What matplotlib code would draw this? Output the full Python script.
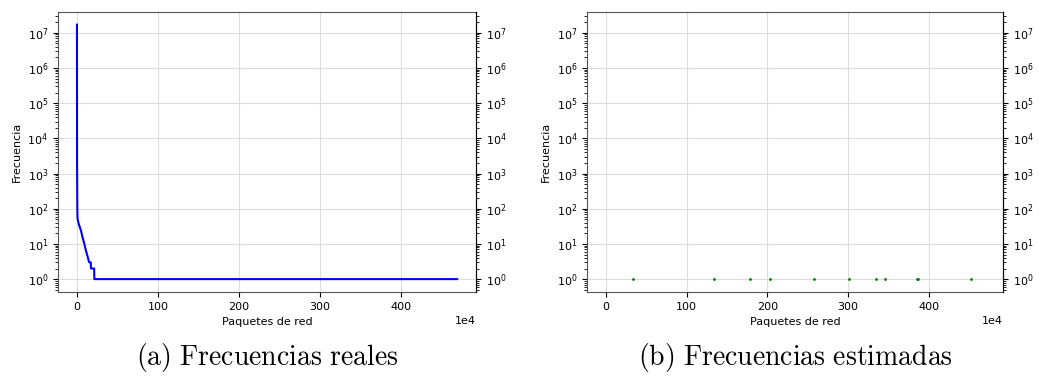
import matplotlib
matplotlib.use('Agg')
import matplotlib.pyplot as plt

# Real frequencies (sorted descending), breakpoints of the rank-frequency curve
RANKS_REAL = [0, 1000, 4000, 7000, 20000, 49000, 70000, 91000, 110000,
              132000, 145000, 150000, 170000, 173000, 212000, 214000, 4690000]
FREQ_REAL = [1.7e7, 2000, 100, 52, 38, 24, 15, 10, 6.5,
             4.3, 3.3, 3, 3, 2, 2, 1, 1]

# Estimated frequencies: only a handful of non-zero entries
RANKS_EST = [33.3e4, 133.7e4, 179e4, 203.3e4, 257.6e4, 300.8e4,
             335.4e4, 345.7e4, 385.2e4, 386.8e4, 452.7e4]
FREQ_EST = [1, 1, 1, 1, 1, 1, 1, 1, 1, 1, 1]

CAPTIONS = [r"$\mathrm{(a)\ Frecuencias\ reales}$",
            r"$\mathrm{(b)\ Frecuencias\ estimadas}$"]

plt.rcParams['font.size'] = 8
plt.rcParams['mathtext.fontset'] = 'cm'

fig = plt.figure(figsize=(10.39, 3.84), dpi=100)
ax1 = fig.add_axes([0.0558, 0.24, 0.4025, 0.729])
ax2 = fig.add_axes([0.565, 0.24, 0.4005, 0.729])

ax1.plot(RANKS_REAL, FREQ_REAL, color="blue", linewidth=1.5)
ax1.set_yscale("log")
xlim = ax1.get_xlim()
ylim = ax1.get_ylim()

ax2.plot(RANKS_EST, FREQ_EST, linestyle="none", marker=".", markersize=2, color="green")
ax2.set_yscale("log")
ax2.set_xlim(xlim)
ax2.set_ylim(ylim)

for ax, cap in zip([ax1, ax2], CAPTIONS):
    ax.grid(True, color="#dddddd", linewidth=0.8)
    ax.set_axisbelow(True)
    ax.set_xlabel("Paquetes de red")
    ax.set_ylabel("Frecuencia")
    ax.ticklabel_format(axis="x", style="sci", scilimits=(4, 4))
    for s in ax.spines.values():
        s.set_color("#555555")
    twin = ax.twinx()
    twin.set_yscale("log")
    twin.set_ylim(ylim)
    for name in ["top", "bottom", "left"]:
        twin.spines[name].set_visible(False)
    pos = ax.get_position()
    fig.text((pos.x0 + pos.x1) / 2, 0.068, cap, ha="center", va="center", fontsize=20)

fig.savefig("out.png", dpi=100)
plt.close(fig)
